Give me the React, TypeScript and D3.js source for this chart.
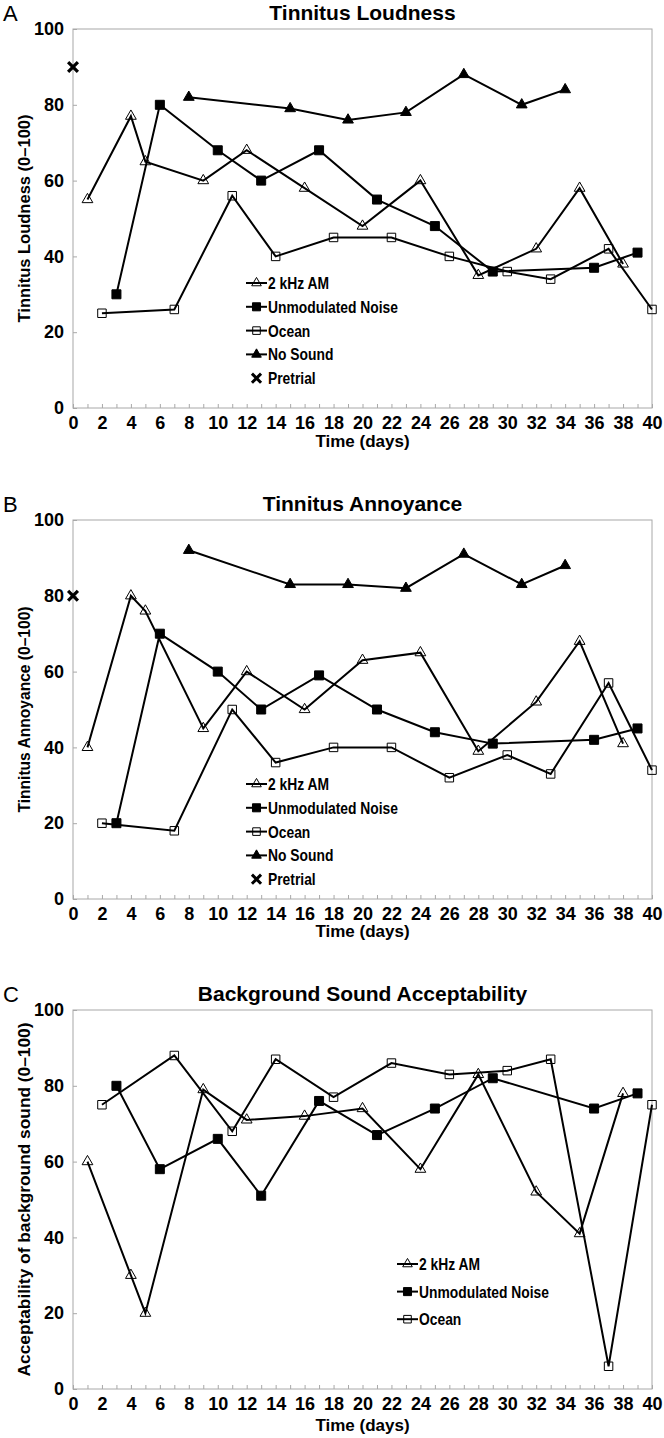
import { useEffect, useRef } from "react";
import * as d3 from "d3";

// days on which each condition was measured
const amDays = [1, 4, 5, 9, 12, 16, 20, 24, 28, 32, 35, 38];
const noiseDays = [3, 6, 10, 13, 17, 21, 25, 29, 36, 39];
const oceanDays = [2, 7, 11, 14, 18, 22, 26, 30, 33, 37, 40];
const silentDays = [8, 15, 19, 23, 27, 31, 34];
const pretrialDay = 0;

// A - loudness
const loudAm = [55, 77, 65, 60, 68, 58, 48, 60, 35, 42, 58, 38];
const loudNoise = [30, 80, 68, 60, 68, 55, 48, 36, 37, 41];
const loudOcean = [25, 26, 56, 40, 45, 45, 40, 36, 34, 42, 26];
const loudSilent = [82, 79, 76, 78, 88, 80, 84];
const loudPretrial = 90;

// B - annoyance
const annAm = [40, 80, 76, 45, 60, 50, 63, 65, 39, 52, 68, 41];
const annNoise = [20, 70, 60, 50, 59, 50, 44, 41, 42, 45];
const annOcean = [20, 18, 50, 36, 40, 40, 32, 38, 33, 57, 34];
const annSilent = [92, 83, 83, 82, 91, 83, 88];
const annPretrial = 80;

// C - acceptability
const accAm = [60, 30, 20, 79, 71, 72, 74, 58, 83, 52, 41, 78];
const accNoise = [80, 58, 66, 51, 76, 67, 74, 82, 74, 78];
const accOcean = [75, 88, 68, 87, 77, 86, 83, 84, 87, 6, 75];

const xTickLabels = [0, 2, 4, 6, 8, 10, 12, 14, 16, 18, 20, 22, 24, 26, 28, 30, 32, 34, 36, 38, 40];
const yTickLabels = [0, 20, 40, 60, 80, 100];
const seriesNames = ["2 kHz AM", "Unmodulated Noise", "Ocean", "No Sound", "Pretrial"];

const FONT = "'Liberation Sans', Arial, sans-serif";
const LEFT = 73, RIGHT = 652, H = 379;

const panels = [
  {
    letter: "A", title: "Tinnitus Loudness", yTitle: "Tinnitus Loudness (0\u2013100)", top: 29,
    am: loudAm, noise: loudNoise, ocean: loudOcean, silent: loudSilent, pretrial: loudPretrial,
    legendX: 246, legendY: 283, legendStep: 23.8, legendCount: 5, yTitleLen: 208,
  },
  {
    letter: "B", title: "Tinnitus Annoyance", yTitle: "Tinnitus Annoyance (0\u2013100)", top: 520,
    am: annAm, noise: annNoise, ocean: annOcean, silent: annSilent, pretrial: annPretrial,
    legendX: 246, legendY: 784, legendStep: 23.8, legendCount: 5, yTitleLen: 206,
  },
  {
    letter: "C", title: "Background Sound Acceptability", yTitle: "Acceptability of background sound (0\u2013100)", top: 1010,
    am: accAm, noise: accNoise, ocean: accOcean, silent: null, pretrial: null,
    legendX: 397, legendY: 1264, legendStep: 27.6, legendCount: 3, yTitleLen: 354,
  },
];

const markers = [
  { type: d3.symbolTriangle, size: 50, fill: "none" },
  { type: d3.symbolSquare, size: 81, fill: "#000" },
  { type: d3.symbolSquare, size: 72, fill: "none" },
  { type: d3.symbolTriangle, size: 50, fill: "#000" },
];

function drawPanel(svg, p) {
  const x = d3.scaleLinear().domain([0, 40]).range([LEFT, RIGHT]);
  const y = d3.scaleLinear().domain([0, 100]).range([p.top + H, p.top]);
  const g = svg.append("g");

  g.append("text").attr("x", 3).attr("y", p.top - 8)
    .attr("font-family", FONT).attr("font-size", 22).text(p.letter);
  g.append("text").attr("x", (LEFT + RIGHT) / 2).attr("y", p.top - 9)
    .attr("text-anchor", "middle").attr("font-family", FONT).attr("font-weight", "bold")
    .attr("font-size", 21).text(p.title);

  g.append("rect").attr("x", LEFT).attr("y", p.top).attr("width", RIGHT - LEFT).attr("height", H)
    .attr("fill", "none").attr("stroke", "#a8a8a8").attr("stroke-width", 1);

  const xAxis = d3.axisBottom(x).tickValues(d3.range(0, 41)).tickSizeInner(-4).tickSizeOuter(0)
    .tickPadding(8).tickFormat(d => (xTickLabels.includes(d) ? String(d) : ""));
  const gx = g.append("g").attr("transform", `translate(0,${p.top + H})`).call(xAxis);
  gx.select(".domain").remove();
  gx.selectAll("line").attr("stroke", "#a8a8a8");
  gx.selectAll("text").attr("font-family", FONT).attr("font-weight", "bold").attr("font-size", 18).attr("fill", "#000");

  const yAxis = d3.axisLeft(y).tickValues(yTickLabels).tickSizeInner(-4).tickSizeOuter(0).tickPadding(9);
  const gy = g.append("g").attr("transform", `translate(${LEFT},0)`).call(yAxis);
  gy.select(".domain").remove();
  gy.selectAll("line").attr("stroke", "#a8a8a8");
  gy.selectAll("text").attr("font-family", FONT).attr("font-weight", "bold").attr("font-size", 18).attr("fill", "#000");

  g.append("text").attr("transform", `translate(30,${p.top + H / 2}) rotate(-90)`)
    .attr("text-anchor", "middle").attr("font-family", FONT).attr("font-weight", "bold")
    .attr("font-size", 16.5).attr("textLength", p.yTitleLen).attr("lengthAdjust", "spacingAndGlyphs")
    .text(p.yTitle);

  const line = d3.line().x(d => x(d[0])).y(d => y(d[1]));
  const series = [
    amDays.map((d, i) => [d, p.am[i]]),
    noiseDays.map((d, i) => [d, p.noise[i]]),
    oceanDays.map((d, i) => [d, p.ocean[i]]),
  ];
  if (p.silent) series.push(silentDays.map((d, i) => [d, p.silent[i]]));

  series.forEach(pts => {
    g.append("path").datum(pts).attr("d", line).attr("fill", "none").attr("stroke", "#000").attr("stroke-width", 2);
  });
  series.forEach((pts, si) => {
    const m = markers[si];
    g.selectAll(null).data(pts).join("path")
      .attr("transform", d => `translate(${x(d[0])},${y(d[1])})`)
      .attr("d", d3.symbol(m.type, m.size))
      .attr("fill", m.fill).attr("stroke", "#000").attr("stroke-width", 1);
  });
  if (p.pretrial != null) {
    g.append("path").attr("transform", `translate(${x(pretrialDay)},${y(p.pretrial)})`)
      .attr("d", d3.symbol(d3.symbolTimes, 64)).attr("fill", "none").attr("stroke", "#000").attr("stroke-width", 3.2);
  }

  // legend
  for (let i = 0; i < p.legendCount; i++) {
    const ly = p.legendY + i * p.legendStep;
    const cx = p.legendX + 10.5;
    if (i < 4) {
      const m = markers[i];
      g.append("line").attr("x1", p.legendX).attr("x2", p.legendX + 21).attr("y1", ly).attr("y2", ly)
        .attr("stroke", "#000").attr("stroke-width", 2);
      g.append("path").attr("transform", `translate(${cx},${ly})`).attr("d", d3.symbol(m.type, m.size * 0.8))
        .attr("fill", m.fill).attr("stroke", "#000").attr("stroke-width", 1);
    } else {
      g.append("path").attr("transform", `translate(${cx},${ly})`).attr("d", d3.symbol(d3.symbolTimes, 56))
        .attr("fill", "none").attr("stroke", "#000").attr("stroke-width", 3);
    }
    g.append("text").attr("transform", `translate(${p.legendX + 22},${ly}) scale(0.84,1)`).attr("dy", "0.36em")
      .attr("font-family", FONT).attr("font-weight", "bold").attr("font-size", 16.5)
      .text(seriesNames[i]);
  }
}

export default function App() {
  const ref = useRef(null);
  useEffect(() => {
    const svg = d3.select(ref.current);
    svg.selectAll("*").remove();
    panels.forEach(p => drawPanel(svg, p));
    svg.append("g").selectAll(null)
      .data([447, 937, 1431]).join("text")
      .attr("x", (LEFT + RIGHT) / 2).attr("y", d => d).attr("text-anchor", "middle")
      .attr("font-family", FONT).attr("font-weight", "bold").attr("font-size", 17).text("Time (days)");
  }, []);
  return (
    <svg ref={ref} width={664} height={1438}
      style={{ position: "absolute", left: 0, top: 0, background: "#fff", display: "block" }} />
  );
}
